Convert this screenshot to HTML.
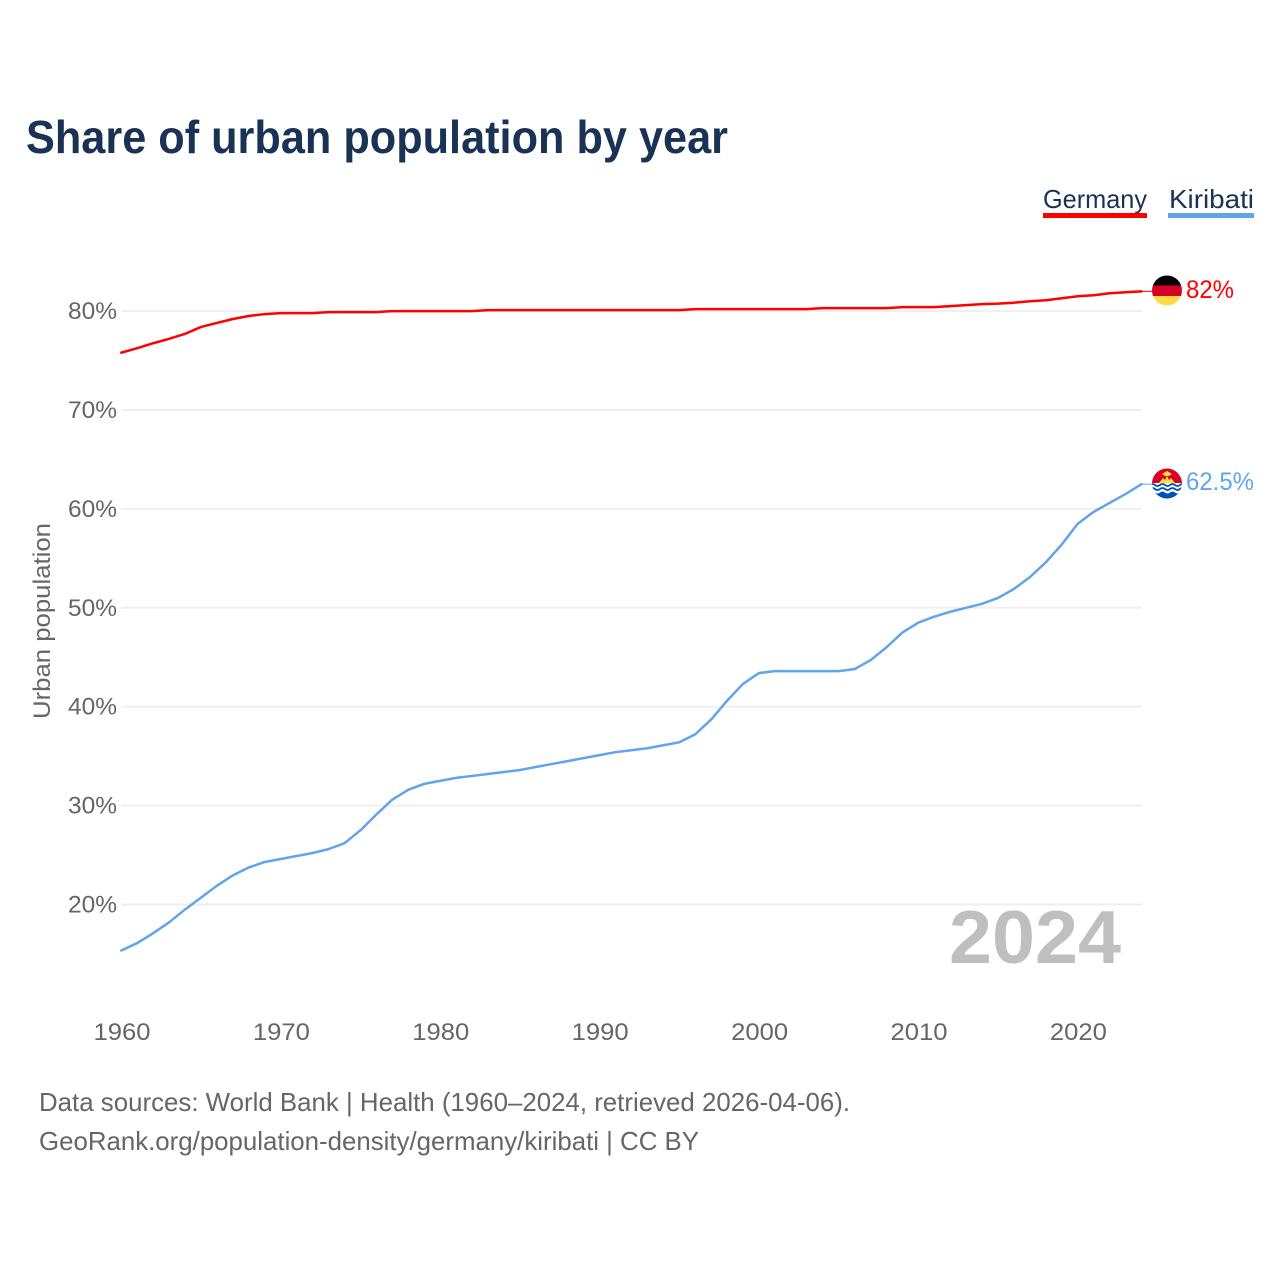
<!DOCTYPE html>
<html lang="en">
<head>
<meta charset="utf-8">
<title>Share of urban population by year</title>
<style>
html,body{margin:0;padding:0;background:#fff;width:1280px;height:1280px;overflow:hidden}
svg{display:block}
text{font-family:"Liberation Sans",sans-serif}
</style>
</head>
<body>
<svg id="chart" width="1280" height="1280" viewBox="0 0 1280 1280" xmlns="http://www.w3.org/2000/svg">
  <defs>
    <clipPath id="flag-de-clip"><circle cx="1167" cy="290.500" r="15"/></clipPath>
    <clipPath id="flag-ki-clip"><circle cx="1167" cy="483.500" r="15"/></clipPath>
  </defs>
  <text x="26" y="153" font-size="46" font-weight="700" fill="#1a3254" textLength="702" lengthAdjust="spacingAndGlyphs">Share of urban population by year</text>

  <g>
    <text x="1043" y="208" font-size="26" fill="#1a3254" textLength="104" lengthAdjust="spacingAndGlyphs">Germany</text>
    <rect x="1043" y="213" width="104" height="5" fill="#ff0000"/>
  </g>
  <g>
    <text x="1169" y="208" font-size="26" fill="#1a3254" textLength="85" lengthAdjust="spacingAndGlyphs">Kiribati</text>
    <rect x="1168" y="213" width="86" height="5" fill="#60a5ec"/>
  </g>

  <g id="grid"></g>
  <g id="y-axis"></g>
  <g id="x-axis"></g>

  <text transform="translate(50,621) rotate(-90)" text-anchor="middle" font-size="24" fill="#666" textLength="196" lengthAdjust="spacingAndGlyphs">Urban population</text>

  <text x="949" y="963" font-size="75" font-weight="700" fill="#bfbfbf" textLength="172" lengthAdjust="spacingAndGlyphs">2024</text>

  <g id="series"></g>

  <g id="flag-germany" clip-path="url(#flag-de-clip)">
    <rect x="1152" y="275" width="30" height="10.500" fill="#000000"/>
    <rect x="1152" y="285.500" width="30" height="10.500" fill="#d80027"/>
    <rect x="1152" y="296" width="30" height="11" fill="#ffda44"/>
  </g>
  <g id="flag-kiribati" clip-path="url(#flag-ki-clip)">
    <rect x="1152" y="468" width="30" height="16" fill="#d80027"/>
    <path d="M1159 483 L1163 478 L1165 480 L1167 476 L1169 480 L1171 478 L1175 483 Z" fill="#ffda44"/>
    <path d="M1162 474 L1167 471 L1172 474 L1169 476 L1165 476 Z" fill="#ffda44"/>
    <rect x="1152" y="483" width="30" height="16" fill="#ffffff"/>
    <path d="M1150 485 q2.500 -2 5 0 t5 0 t5 0 t5 0 t5 0 t5 0 t5 0" fill="none" stroke="#0052b4" stroke-width="1.800"/>
    <path d="M1150 489 q2.500 -2 5 0 t5 0 t5 0 t5 0 t5 0 t5 0 t5 0" fill="none" stroke="#0052b4" stroke-width="1.800"/>
    <path d="M1150 492.500 q2.500 -2 5 0 t5 0 t5 0 t5 0 t5 0 t5 0 t5 0 V500 H1150 Z" fill="#0052b4"/>
  </g>

  <g id="end-labels"></g>

  <text x="39" y="1111" font-size="26" fill="#666" textLength="811" lengthAdjust="spacingAndGlyphs">Data sources: World Bank | Health (1960–2024, retrieved 2026-04-06).</text>
  <text x="39" y="1150" font-size="26" fill="#666" textLength="660" lengthAdjust="spacingAndGlyphs">GeoRank.org/population-density/germany/kiribati | CC BY</text>
</svg>
<script>
const startYear = 1960;
const yTicks = [20, 30, 40, 50, 60, 70, 80];
const xTicks = [1960, 1970, 1980, 1990, 2000, 2010, 2020];
const germanyValues = [75.8,76.25,76.75,77.2,77.7,78.4,78.8,79.2,79.5,79.7,79.8,79.8,79.8,79.9,79.9,79.9,79.9,80.0,80.0,80.0,80.0,80.0,80.0,80.1,80.1,80.1,80.1,80.1,80.1,80.1,80.1,80.1,80.1,80.1,80.1,80.1,80.2,80.2,80.2,80.2,80.2,80.2,80.2,80.2,80.3,80.3,80.3,80.3,80.3,80.4,80.4,80.4,80.5,80.6,80.7,80.75,80.85,81.0,81.1,81.3,81.5,81.6,81.8,81.9,82.0];
const kiribatiValues = [15.35,16.1,17.1,18.2,19.5,20.7,21.9,22.95,23.75,24.3,24.6,24.9,25.2,25.6,26.2,27.5,29.1,30.6,31.6,32.2,32.5,32.8,33.0,33.2,33.4,33.6,33.9,34.2,34.5,34.8,35.1,35.4,35.6,35.8,36.1,36.4,37.2,38.7,40.6,42.3,43.4,43.6,43.6,43.6,43.6,43.6,43.8,44.7,46.0,47.5,48.5,49.1,49.6,50.0,50.4,51.0,51.9,53.1,54.6,56.4,58.5,59.7,60.6,61.5,62.5];
const germanyEndLabel = "82%";
const kiribatiEndLabel = "62.5%";

const SVG_NS = "http://www.w3.org/2000/svg";
function xScale(year) { return 121.3 + (year - 1960) * 15.94; }
function yScale(pct) { return 904.5 - (pct - 20) * 9.89; }
function make(tag, attrs, parent, txt) {
  const el = document.createElementNS(SVG_NS, tag);
  for (const k in attrs) el.setAttribute(k, attrs[k]);
  if (txt !== undefined) el.textContent = txt;
  parent.appendChild(el);
  return el;
}
const gridG = document.getElementById("grid");
const yG = document.getElementById("y-axis");
const xG = document.getElementById("x-axis");
const seriesG = document.getElementById("series");
const endG = document.getElementById("end-labels");

yTicks.forEach(function (t) {
  const line = make("line", {x1: 121, x2: 1142, y1: yScale(t), y2: yScale(t), stroke: "#efefef", "stroke-width": 2}, gridG);
  
  
  const label = make("text", {x: 117, y: yScale(t) + 8, "text-anchor": "end", "font-size": 24, fill: "#666", textLength: 49, lengthAdjust: "spacingAndGlyphs"}, yG, t + "%");
  
  
});
xTicks.forEach(function (t) {
  const label = make("text", {x: xScale(t) + 0.7, y: 1040, "text-anchor": "middle", "font-size": 24, fill: "#666", textLength: 57, lengthAdjust: "spacingAndGlyphs"}, xG, String(t));
  
  
});
function pts(values) {
  return values.map(function (v, i) { return xScale(startYear + i).toFixed(2) + "," + yScale(v).toFixed(2); }).join(" ");
}
const lineDe = make("polyline", {points: pts(germanyValues), fill: "none", stroke: "#ff0000", "stroke-width": 2.5, "stroke-linejoin": "round", "stroke-linecap": "round"}, seriesG);


const lineKi = make("polyline", {points: pts(kiribatiValues), fill: "none", stroke: "#60a5ec", "stroke-width": 2.5, "stroke-linejoin": "round", "stroke-linecap": "round"}, seriesG);



const lastDe = germanyValues[germanyValues.length - 1];
const lastKi = kiribatiValues[kiribatiValues.length - 1];
const connDe = make("line", {x1: xScale(2024), x2: 1153, y1: yScale(lastDe), y2: yScale(lastDe), stroke: "#ff0000", "stroke-width": 1}, seriesG);


const connKi = make("line", {x1: xScale(2024), x2: 1153, y1: yScale(lastKi), y2: yScale(lastKi), stroke: "#60a5ec", "stroke-width": 1}, seriesG);



const endDe = make("text", {x: 1186, y: yScale(lastDe) + 6.5, "font-size": 25, fill: "#ff0000", textLength: 48, lengthAdjust: "spacingAndGlyphs"}, endG, germanyEndLabel);


const endKi = make("text", {x: 1186, y: yScale(lastKi) + 6, "font-size": 25, fill: "#60a5ec", textLength: 68, lengthAdjust: "spacingAndGlyphs"}, endG, kiribatiEndLabel);


</script>
</body>
</html>
